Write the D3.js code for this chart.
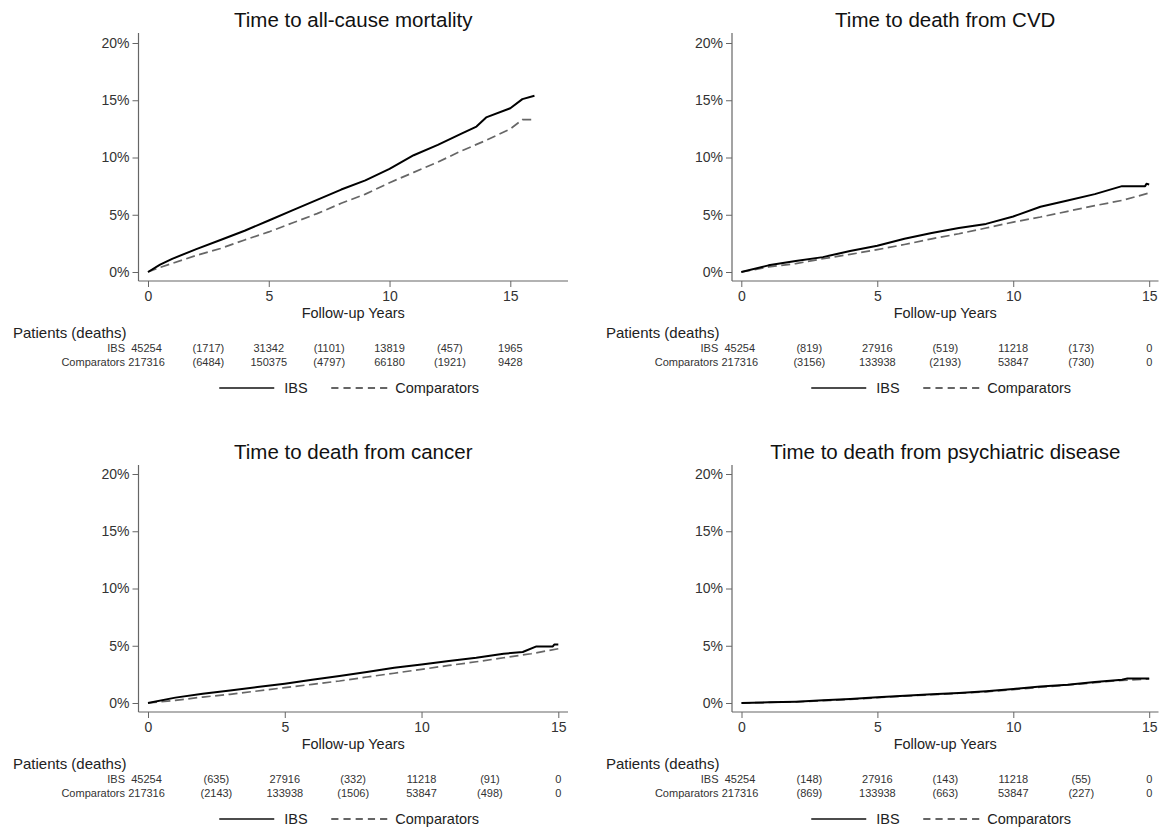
<!DOCTYPE html>
<html>
<head>
<meta charset="utf-8">
<script src="https://cdn.jsdelivr.net/npm/d3@7"></script>
<style>
  html, body { margin: 0; padding: 0; background: #fff; }
  svg { display: block; }
  text { font-family: "Liberation Sans", Arial, sans-serif; fill: #222; }
</style>
</head>
<body>
<svg id="chart" width="1169" height="831"></svg>
<script>
// ---------------- DATA ----------------
const titles = [
  "Time to all-cause mortality",
  "Time to death from CVD",
  "Time to death from cancer",
  "Time to death from psychiatric disease"
];
const seriesNames = ["IBS", "Comparators"];
const yTicks = [0, 5, 10, 15, 20];
const xTicks = [0, 5, 10, 15];
const tableTimes = [0, 2.5, 5, 7.5, 10, 12.5, 15];

// All-cause mortality (cumulative %, by follow-up year)
const allIBSTime  = [0, 0.5, 1, 2, 3, 4, 5, 6, 7, 8, 9, 10, 11, 12, 13, 13.6, 14, 15, 15.5, 16];
const allIBSVal   = [0, 0.65, 1.15, 2.0, 2.8, 3.6, 4.5, 5.4, 6.3, 7.2, 8.0, 9.0, 10.2, 11.1, 12.1, 12.7, 13.5, 14.3, 15.1, 15.4];
const allCompTime = [0, 0.5, 1, 2, 3, 4, 5, 6, 7, 8, 9, 10, 11, 12, 13, 14, 15, 15.5, 16];
const allCompVal  = [0, 0.4, 0.75, 1.45, 2.05, 2.8, 3.5, 4.3, 5.1, 6.0, 6.8, 7.8, 8.7, 9.6, 10.6, 11.5, 12.5, 13.3, 13.3];

// CVD
const cvdIBSTime  = [0, 1, 2, 3, 4, 5, 6, 7, 8, 9, 10, 11, 12, 13, 14, 14.85, 14.9, 15];
const cvdIBSVal   = [0, 0.58, 0.96, 1.3, 1.83, 2.3, 2.9, 3.4, 3.84, 4.2, 4.85, 5.7, 6.25, 6.8, 7.5, 7.5, 7.7, 7.65];
const cvdCompTime = [0, 1, 2, 3, 4, 5, 6, 7, 8, 9, 10, 11, 12, 13, 14, 15];
const cvdCompVal  = [0, 0.44, 0.73, 1.16, 1.54, 1.95, 2.4, 2.9, 3.34, 3.84, 4.36, 4.8, 5.3, 5.8, 6.25, 6.9];

// Cancer
const canIBSTime  = [0, 1, 2, 3, 4, 5, 6, 7, 8, 9, 10, 11, 12, 13, 13.7, 14.2, 14.8, 14.85, 15];
const canIBSVal   = [0, 0.47, 0.81, 1.1, 1.4, 1.69, 2.03, 2.35, 2.7, 3.08, 3.37, 3.66, 3.95, 4.3, 4.45, 4.94, 4.94, 5.1, 5.1];
const canCompTime = [0, 1, 2, 3, 4, 5, 6, 7, 8, 9, 10, 11, 12, 13, 14, 15];
const canCompVal  = [0, 0.23, 0.52, 0.76, 1.05, 1.34, 1.63, 1.92, 2.27, 2.6, 2.94, 3.28, 3.6, 3.95, 4.3, 4.74];

// Psychiatric disease
const psyIBSTime  = [0, 1, 2, 3, 4, 5, 6, 7, 8, 9, 10, 11, 12, 13, 14, 14.2, 15];
const psyIBSVal   = [0, 0.06, 0.12, 0.23, 0.35, 0.5, 0.64, 0.76, 0.87, 1.02, 1.22, 1.45, 1.6, 1.83, 2.03, 2.15, 2.15];
const psyCompTime = [0, 1, 2, 3, 4, 5, 6, 7, 8, 9, 10, 11, 12, 13, 14, 15];
const psyCompVal  = [0, 0.05, 0.1, 0.2, 0.32, 0.46, 0.6, 0.72, 0.85, 0.98, 1.17, 1.38, 1.57, 1.78, 1.98, 2.1];

// Risk tables: Patients (deaths)
const allIBSRisk  = ["45254", "(1717)", "31342", "(1101)", "13819", "(457)", "1965"];
const allCompRisk = ["217316", "(6484)", "150375", "(4797)", "66180", "(1921)", "9428"];
const cvdIBSRisk  = ["45254", "(819)", "27916", "(519)", "11218", "(173)", "0"];
const cvdCompRisk = ["217316", "(3156)", "133938", "(2193)", "53847", "(730)", "0"];
const canIBSRisk  = ["45254", "(635)", "27916", "(332)", "11218", "(91)", "0"];
const canCompRisk = ["217316", "(2143)", "133938", "(1506)", "53847", "(498)", "0"];
const psyIBSRisk  = ["45254", "(148)", "27916", "(143)", "11218", "(55)", "0"];
const psyCompRisk = ["217316", "(869)", "133938", "(663)", "53847", "(227)", "0"];

// ---------------- LAYOUT ----------------
const panels = [
  { title: titles[0], ibsT: allIBSTime, ibsV: allIBSVal, cmpT: allCompTime, cmpV: allCompVal,
    ibsRisk: allIBSRisk, cmpRisk: allCompRisk,
    yAxisX: 138.5, x0: 148, x15: 510.3, xEnd: 568, top: 33, y20: 43, y0: 272, xAxisY: 281, tableX: 13 },
  { title: titles[1], ibsT: cvdIBSTime, ibsV: cvdIBSVal, cmpT: cvdCompTime, cmpV: cvdCompVal,
    ibsRisk: cvdIBSRisk, cmpRisk: cvdCompRisk,
    yAxisX: 732, x0: 741.3, x15: 1149.2, xEnd: 1158.5, top: 33, y20: 43, y0: 272, xAxisY: 281, tableX: 606 },
  { title: titles[2], ibsT: canIBSTime, ibsV: canIBSVal, cmpT: canCompTime, cmpV: canCompVal,
    ibsRisk: canIBSRisk, cmpRisk: canCompRisk,
    yAxisX: 138.5, x0: 148, x15: 558.3, xEnd: 568, top: 465, y20: 474, y0: 703, xAxisY: 712, tableX: 13 },
  { title: titles[3], ibsT: psyIBSTime, ibsV: psyIBSVal, cmpT: psyCompTime, cmpV: psyCompVal,
    ibsRisk: psyIBSRisk, cmpRisk: psyCompRisk,
    yAxisX: 732, x0: 741.5, x15: 1149.2, xEnd: 1158.5, top: 465, y20: 474, y0: 703, xAxisY: 712, tableX: 606 }
];

const axisColor = "#666";
const dashColor = "#666";
const svg = d3.select("#chart");

panels.forEach(p => {
  const g = svg.append("g");
  const x = d3.scaleLinear().domain([0, 15]).range([p.x0, p.x15]);
  const y = d3.scaleLinear().domain([0, 20]).range([p.y0, p.y20]);
  const cx = (p.yAxisX + p.xEnd) / 2;

  // Title
  g.append("text").attr("x", cx).attr("y", p.top - 14).attr("text-anchor", "middle")
    .attr("dominant-baseline", "central").style("font-size", "20.5px").style("fill", "#111").text(p.title);

  // Y axis
  const yAxis = d3.axisLeft(y).tickValues(yTicks).tickFormat(d => d + "%").tickSize(6).tickPadding(3);
  const ya = g.append("g").attr("transform", `translate(${p.yAxisX},0)`).call(yAxis);
  ya.select(".domain").remove();
  ya.append("line").attr("x1", 0).attr("x2", 0).attr("y1", p.top).attr("y2", p.xAxisY)
    .attr("stroke", axisColor).attr("stroke-width", 1.2);
  ya.selectAll(".tick line").attr("stroke", axisColor);
  ya.selectAll(".tick text").style("font-size", "14px").style("fill", "#333").attr("font-family", null);

  // X axis
  const xAxis = d3.axisBottom(x).tickValues(xTicks).tickSize(6).tickPadding(4);
  const xa = g.append("g").attr("transform", `translate(0,${p.xAxisY})`).call(xAxis);
  xa.select(".domain").remove();
  xa.append("line").attr("x1", p.yAxisX).attr("x2", p.xEnd).attr("y1", 0).attr("y2", 0)
    .attr("stroke", axisColor).attr("stroke-width", 1.2);
  xa.selectAll(".tick line").attr("stroke", axisColor);
  xa.selectAll(".tick text").style("font-size", "14px").style("fill", "#333").attr("font-family", null);

  g.append("text").attr("x", cx).attr("y", p.xAxisY + 32).attr("text-anchor", "middle")
    .attr("dominant-baseline", "central").style("font-size", "14.5px").text("Follow-up Years");

  // Curves
  const line = d3.line().x(d => x(d[0])).y(d => y(d[1]));
  const cmpData = p.cmpT.map((t, i) => [t, p.cmpV[i]]);
  const ibsData = p.ibsT.map((t, i) => [t, p.ibsV[i]]);
  g.append("path").datum(cmpData).attr("d", line).attr("fill", "none")
    .attr("stroke", dashColor).attr("stroke-width", 1.7).attr("stroke-dasharray", "9,4.5");
  g.append("path").datum(ibsData).attr("d", line).attr("fill", "none")
    .attr("stroke", "#000").attr("stroke-width", 2).attr("stroke-linejoin", "round");

  // Risk table
  g.append("text").attr("x", p.tableX).attr("y", p.xAxisY + 51).attr("dominant-baseline", "central")
    .style("font-size", "15px").text("Patients (deaths)");
  const rows = [[seriesNames[0], p.ibsRisk, p.xAxisY + 67], [seriesNames[1], p.cmpRisk, p.xAxisY + 81]];
  rows.forEach(([name, vals, ry]) => {
    g.append("text").attr("x", x(0) - 23).attr("y", ry).attr("text-anchor", "end")
      .attr("dominant-baseline", "central").style("font-size", "11px").style("fill", "#333").text(name);
    g.selectAll(null).data(vals).enter().append("text")
      .attr("x", (d, i) => x(tableTimes[i]) - (i === 0 ? 1.5 : 0)).attr("y", ry)
      .attr("text-anchor", "middle").attr("dominant-baseline", "central")
      .style("font-size", "11px").style("fill", "#333").text(d => d);
  });

  // Legend
  const ly = p.xAxisY + 107;
  const lx = cx - 134;
  g.append("line").attr("x1", lx).attr("x2", lx + 55).attr("y1", ly).attr("y2", ly)
    .attr("stroke", "#111").attr("stroke-width", 1.4);
  g.append("text").attr("x", lx + 65).attr("y", ly).attr("dominant-baseline", "central")
    .style("font-size", "14.5px").text(seriesNames[0]);
  g.append("line").attr("x1", lx + 112).attr("x2", lx + 168).attr("y1", ly).attr("y2", ly)
    .attr("stroke", "#333").attr("stroke-width", 1.4).attr("stroke-dasharray", "7.2,5");
  g.append("text").attr("x", lx + 176).attr("y", ly).attr("dominant-baseline", "central")
    .style("font-size", "14.5px").text(seriesNames[1]);
});
</script>
</body>
</html>
